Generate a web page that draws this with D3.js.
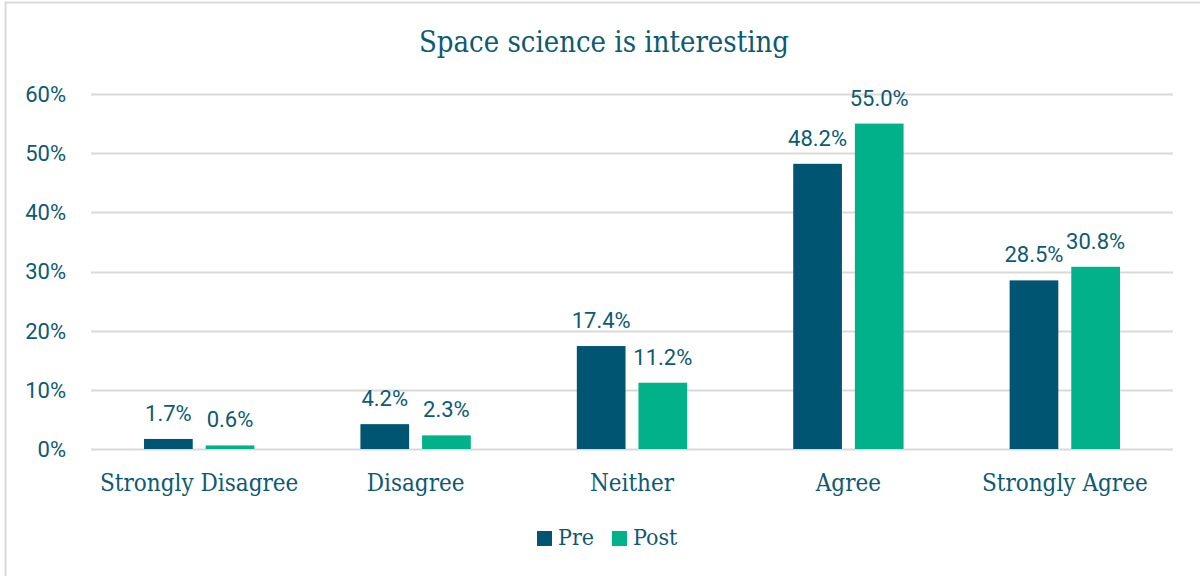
<!DOCTYPE html>
<html>
<head>
<meta charset="utf-8">
<script src="https://cdn.jsdelivr.net/npm/d3@7"></script>
<style>
  body { margin: 0; background: #fff; }
  .slab { font-family: "Roboto Slab", "DejaVu Serif Condensed", "DejaVu Serif", serif; }
  .sans { font-family: Roboto, "Liberation Sans", sans-serif; }
</style>
</head>
<body>
<script>
// survey answers
const categories = ["Strongly Disagree", "Disagree", "Neither", "Agree", "Strongly Agree"];
const series = ["Pre", "Post"];
const preValues = [0.017, 0.042, 0.174, 0.482, 0.285];
const postValues = [0.006, 0.023, 0.112, 0.550, 0.308];
const yTicks = [0, 0.1, 0.2, 0.3, 0.4, 0.5, 0.6];

const width = 1200, height = 576;
const textColor = "#0e5a73";
const color = d3.scaleOrdinal().domain(series).range(["#005572", "#00b189"]);

const data = categories.map((c, i) => ({cat: c, Pre: preValues[i], Post: postValues[i]}));

const svg = d3.select("body").append("svg")
    .attr("width", width)
    .attr("height", height);

// chart frame
svg.append("rect")
    .attr("x", 5.5).attr("y", 2.5)
    .attr("width", 1220).attr("height", 620)
    .attr("fill", "none")
    .attr("stroke", "#d9d9d9")
    .attr("stroke-width", 2);

const x0 = d3.scaleBand()
    .domain(categories)
    .range([91, 1173])
    .paddingInner(0.49)
    .paddingOuter(0.245);

const x1 = d3.scaleBand()
    .domain(series)
    .range([0, x0.bandwidth()])
    .paddingInner(0.21);

const y = d3.scaleLinear()
    .domain([0, 0.6])
    .range([449, 94]);

// gridlines
svg.append("g")
  .selectAll("line")
  .data(yTicks)
  .join("line")
    .attr("x1", 91).attr("x2", 1173)
    .attr("y1", d => Math.round(y(d)) + 0.5)
    .attr("y2", d => Math.round(y(d)) + 0.5)
    .attr("stroke", "#d9d9d9")
    .attr("stroke-width", 2);

// y tick labels
svg.append("g")
    .attr("class", "sans")
  .selectAll("text")
  .data(yTicks)
  .join("text")
    .attr("x", 66)
    .attr("y", d => y(d))
    .attr("dy", "0.36em")
    .attr("text-anchor", "end")
    .attr("fill", textColor)
    .style("font-size", "22px")
    .text(d3.format(".0%"));

// bars
const groups = svg.append("g")
  .selectAll("g")
  .data(data)
  .join("g")
    .attr("transform", d => `translate(${x0(d.cat)},0)`);

groups.selectAll("rect")
  .data(d => series.map(s => ({key: s, value: d[s]})))
  .join("rect")
    .attr("x", d => x1(d.key))
    .attr("y", d => y(d.value))
    .attr("width", x1.bandwidth())
    .attr("height", d => y(0) - y(d.value))
    .attr("fill", d => color(d.key));

groups.selectAll("text")
  .data(d => series.map(s => ({key: s, value: d[s]})))
  .join("text")
    .attr("class", "sans")
    .attr("x", d => x1(d.key) + x1.bandwidth() / 2)
    .attr("y", d => y(d.value) - 18)
    .attr("text-anchor", "middle")
    .attr("fill", textColor)
    .style("font-size", "22px")
    .text(d => d3.format(".1%")(d.value));

// category labels
svg.append("g")
    .attr("class", "slab")
  .selectAll("text")
  .data(categories)
  .join("text")
    .attr("x", d => x0(d) + x0.bandwidth() / 2)
    .attr("y", 491)
    .attr("text-anchor", "middle")
    .attr("fill", textColor)
    .style("font-size", "24px")
    .text(d => d);

// title
svg.append("text")
    .attr("class", "slab")
    .attr("x", 604)
    .attr("y", 52)
    .attr("text-anchor", "middle")
    .attr("fill", textColor)
    .style("font-size", "29px")
    .text("Space science is interesting");

// legend
const legend = svg.append("g")
    .attr("class", "slab")
  .selectAll("g")
  .data(series)
  .join("g")
    .attr("transform", (d, i) => `translate(${[537, 612][i]},531)`);

legend.append("rect")
    .attr("width", 15).attr("height", 15)
    .attr("fill", d => color(d));

legend.append("text")
    .attr("x", 21)
    .attr("y", 14)
    .attr("fill", textColor)
    .style("font-size", "23px")
    .text(d => d);
</script>
</body>
</html>
